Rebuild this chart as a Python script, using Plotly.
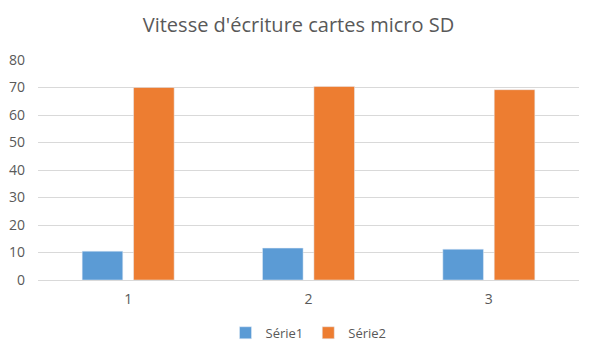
import plotly.graph_objects as go

categories = ["1", "2", "3"]
serie1 = [10.5, 11.6, 11.2]
serie2 = [70.0, 70.4, 69.2]
y_ticks = [0, 10, 20, 30, 40, 50, 60, 70, 80]

fig = go.Figure()
fig.add_trace(go.Bar(x=categories, y=serie1, name="Série1", marker_color="#5B9BD5"))
fig.add_trace(go.Bar(x=categories, y=serie2, name="Série2", marker_color="#ED7D31"))

font_family = "Open Sans, Liberation Sans, sans-serif"
fig.update_layout(
    width=597, height=355,
    margin=dict(l=38, r=18, t=60, b=75, autoexpand=False),
    paper_bgcolor="white", plot_bgcolor="white",
    barmode="group", bargap=0.43, bargroupgap=0.21,
    title=dict(text="Vitesse d'écriture cartes micro SD", x=0.5, xanchor="center",
               y=0.93, yanchor="middle",
               font=dict(family=font_family, size=20, color="#595959")),
    font=dict(family=font_family, size=12, color="#595959"),
    legend=dict(orientation="h", x=0.5, xanchor="center", y=-0.24, yanchor="middle",
                font=dict(size=13, color="#595959"), itemwidth=30),
    showlegend=True,
)
fig.update_yaxes(range=[0, 80], tickvals=y_ticks, showgrid=True, gridcolor="#D9D9D9",
                 gridwidth=1, zeroline=False, showline=False, ticks="",
                 ticklabelstandoff=12,
                 tickfont=dict(size=14, color="#595959"))
fig.update_xaxes(type="category", showline=True, linecolor="#D9D9D9", ticks="",
                 ticklabelstandoff=6,
                 tickfont=dict(size=14, color="#595959"))

fig.write_html("out.html", config={"displayModeBar": False},
               post_script="document.body.style.margin='0';")
